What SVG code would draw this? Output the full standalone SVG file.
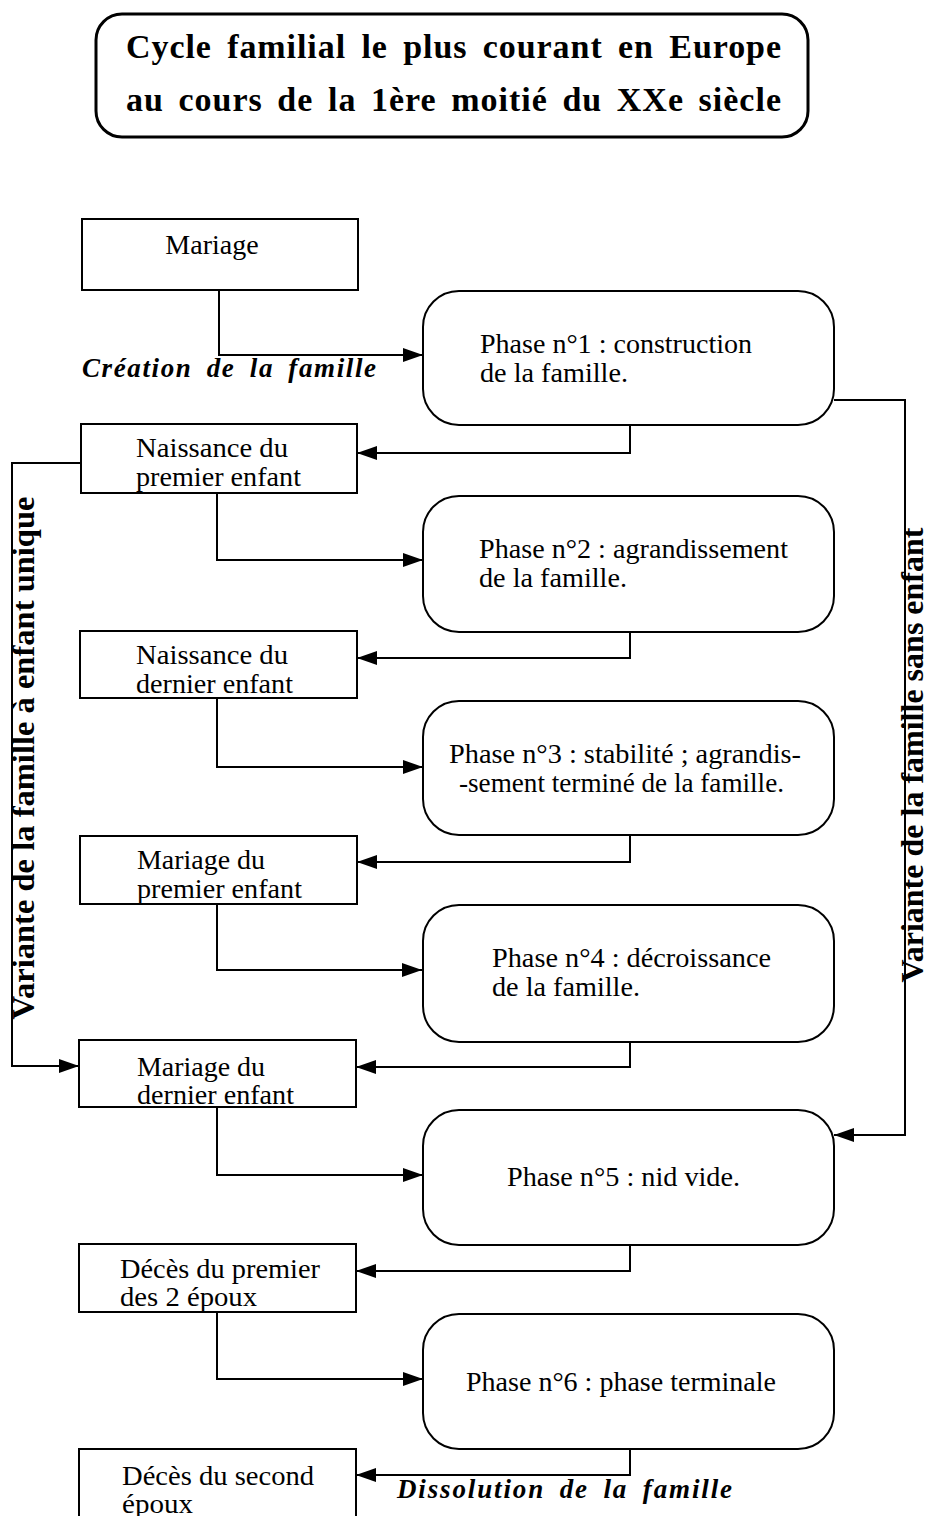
<svg xmlns="http://www.w3.org/2000/svg" width="927" height="1516" viewBox="0 0 927 1516">
<style>
.box{fill:#fff;stroke:#000;stroke-width:2}
.phase{fill:#fff;stroke:#000;stroke-width:2}
.t{font-family:"Liberation Serif","Times New Roman",serif;font-size:28px;fill:#000}
.title{font-family:"Liberation Serif","Times New Roman",serif;font-size:34px;font-weight:bold;fill:#000}
.it{font-family:"Liberation Serif","Times New Roman",serif;font-size:27px;font-weight:bold;font-style:italic;fill:#000}
.vt{font-family:"Liberation Serif","Times New Roman",serif;font-size:31px;font-weight:bold;fill:#000}
.c{fill:none;stroke:#000;stroke-width:2}
</style>
<defs>
<marker id="ah" viewBox="0 0 20 14" refX="20" refY="7" markerWidth="20" markerHeight="14" markerUnits="userSpaceOnUse" orient="auto">
<path d="M0,0 L20,7 L0,14 z" fill="#000"/>
</marker>
</defs>
<rect width="927" height="1516" fill="#fff"/>
<g id="title">
<rect x="96" y="14" width="712" height="123" rx="26" fill="#fff" stroke="#000" stroke-width="3"/>
<text class="title" x="126" y="58" word-spacing="6" textLength="655" lengthAdjust="spacing">Cycle familial le plus courant en Europe</text>
<text class="title" x="126" y="111" word-spacing="5" textLength="655" lengthAdjust="spacing">au cours de la 1ère moitié du XXe siècle</text>
</g>
<g id="connectors">
<path class="c" d="M219,290 V355 H423" marker-end="url(#ah)"/>
<path class="c" d="M630,425 V453 H357" marker-end="url(#ah)"/>
<path class="c" d="M217,493 V560 H423" marker-end="url(#ah)"/>
<path class="c" d="M630,632 V658 H357" marker-end="url(#ah)"/>
<path class="c" d="M217,698 V767 H423" marker-end="url(#ah)"/>
<path class="c" d="M630,835 V862 H357" marker-end="url(#ah)"/>
<path class="c" d="M217,904 V970 H422" marker-end="url(#ah)"/>
<path class="c" d="M630,1042 V1067 H356" marker-end="url(#ah)"/>
<path class="c" d="M217,1107 V1175 H423" marker-end="url(#ah)"/>
<path class="c" d="M630,1245 V1271 H356" marker-end="url(#ah)"/>
<path class="c" d="M217,1312 V1379 H423" marker-end="url(#ah)"/>
<path class="c" d="M630,1449 V1475 H356" marker-end="url(#ah)"/>
<path class="c" d="M81,463 H12 V1066 H79" marker-end="url(#ah)"/>
<path class="c" d="M834,400 H905 V1135 H834" marker-end="url(#ah)"/>
<text class="it" x="82" y="377" word-spacing="6" textLength="294" lengthAdjust="spacing">Création de la famille</text>
<text class="it" x="397" y="1498" word-spacing="6" textLength="335" lengthAdjust="spacing">Dissolution de la famille</text>
<text class="vt" transform="translate(34,758) rotate(-90)" text-anchor="middle" textLength="523" lengthAdjust="spacingAndGlyphs">Variante de la famille à enfant unique</text>
<text class="vt" transform="translate(923,755) rotate(-90)" text-anchor="middle" textLength="455" lengthAdjust="spacingAndGlyphs">Variante de la famille sans enfant</text>
</g>
<g id="mariage">
<rect class="box" x="82" y="219" width="276" height="71"/>
<text class="t" x="212" y="254" text-anchor="middle">Mariage</text>
</g>
<g id="naissance-premier">
<rect class="box" x="81" y="424" width="276" height="69"/>
<text class="t" x="136" y="457" textLength="152" lengthAdjust="spacingAndGlyphs">Naissance du</text>
<text class="t" x="136" y="486" textLength="165" lengthAdjust="spacingAndGlyphs">premier enfant</text>
</g>
<g id="naissance-dernier">
<rect class="box" x="80" y="631" width="277" height="67"/>
<text class="t" x="136" y="664" textLength="152" lengthAdjust="spacingAndGlyphs">Naissance du</text>
<text class="t" x="136" y="693" textLength="157" lengthAdjust="spacingAndGlyphs">dernier enfant</text>
</g>
<g id="mariage-premier">
<rect class="box" x="80" y="836" width="277" height="68"/>
<text class="t" x="137" y="869" textLength="128" lengthAdjust="spacingAndGlyphs">Mariage du</text>
<text class="t" x="137" y="898" textLength="165" lengthAdjust="spacingAndGlyphs">premier enfant</text>
</g>
<g id="mariage-dernier">
<rect class="box" x="79" y="1040" width="277" height="67"/>
<text class="t" x="137" y="1076" textLength="128" lengthAdjust="spacingAndGlyphs">Mariage du</text>
<text class="t" x="137" y="1104" textLength="157" lengthAdjust="spacingAndGlyphs">dernier enfant</text>
</g>
<g id="deces-premier">
<rect class="box" x="79" y="1244" width="277" height="68"/>
<text class="t" x="120" y="1278" textLength="200" lengthAdjust="spacingAndGlyphs">Décès du premier</text>
<text class="t" x="120" y="1306" textLength="137" lengthAdjust="spacingAndGlyphs">des 2 époux</text>
</g>
<g id="deces-second">
<rect class="box" x="79" y="1449" width="277" height="80"/>
<text class="t" x="122" y="1485" textLength="192" lengthAdjust="spacingAndGlyphs">Décès du second</text>
<text class="t" x="122" y="1513" textLength="71" lengthAdjust="spacingAndGlyphs">époux</text>
</g>
<g id="phase1">
<rect class="phase" x="423" y="291" width="411" height="134" rx="36"/>
<text class="t" x="480" y="353" textLength="272" lengthAdjust="spacingAndGlyphs">Phase n°1 : construction</text>
<text class="t" x="480" y="382" textLength="148" lengthAdjust="spacingAndGlyphs">de la famille.</text>
</g>
<g id="phase2">
<rect class="phase" x="423" y="496" width="411" height="136" rx="36"/>
<text class="t" x="479" y="558" textLength="309" lengthAdjust="spacingAndGlyphs">Phase n°2 : agrandissement</text>
<text class="t" x="479" y="587" textLength="148" lengthAdjust="spacingAndGlyphs">de la famille.</text>
</g>
<g id="phase3">
<rect class="phase" x="423" y="701" width="411" height="134" rx="36"/>
<text class="t" x="449" y="763" textLength="352" lengthAdjust="spacingAndGlyphs">Phase n°3 : stabilité ; agrandis-</text>
<text class="t" x="459" y="792" textLength="325" lengthAdjust="spacingAndGlyphs">-sement terminé de la famille.</text>
</g>
<g id="phase4">
<rect class="phase" x="423" y="905" width="411" height="137" rx="36"/>
<text class="t" x="492" y="967" textLength="279" lengthAdjust="spacingAndGlyphs">Phase n°4 : décroissance</text>
<text class="t" x="492" y="996" textLength="148" lengthAdjust="spacingAndGlyphs">de la famille.</text>
</g>
<g id="phase5">
<rect class="phase" x="423" y="1110" width="411" height="135" rx="36"/>
<text class="t" x="507" y="1186" textLength="233" lengthAdjust="spacingAndGlyphs">Phase n°5 : nid vide.</text>
</g>
<g id="phase6">
<rect class="phase" x="423" y="1314" width="411" height="135" rx="36"/>
<text class="t" x="466" y="1391" textLength="310" lengthAdjust="spacingAndGlyphs">Phase n°6 : phase terminale</text>
</g>
</svg>
